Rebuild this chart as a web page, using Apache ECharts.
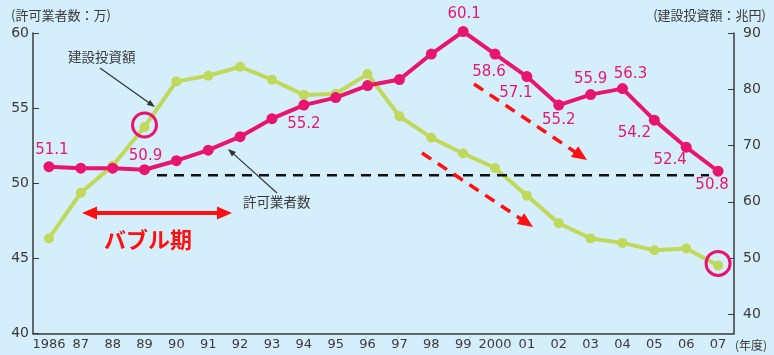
<!DOCTYPE html>
<html>
<head>
<meta charset="utf-8">
<script src="https://cdn.jsdelivr.net/npm/echarts@6/dist/echarts.min.js"></script>
<style>
  html, body { margin: 0; padding: 0; background: #d5eefb; }
  #chart { width: 774px; height: 355px; }
</style>
</head>
<body>
<div id="chart"></div>
<script>
// 年度
var years = ['1986', '87', '88', '89', '90', '91', '92', '93', '94', '95', '96',
             '97', '98', '99', '2000', '01', '02', '03', '04', '05', '06', '07'];
// 許可業者数（万）
var contractors = [51.1, 51.0, 51.0, 50.9, 51.5, 52.2, 53.1, 54.3, 55.2, 55.7, 56.5,
                   56.9, 58.6, 60.1, 58.6, 57.1, 55.2, 55.9, 56.3, 54.2, 52.4, 50.8];
// 建設投資額（兆円）
var investment = [53.5, 61.6, 66.4, 73.3, 81.4, 82.4, 84.0, 81.7, 79.0, 79.2, 82.7,
                  75.2, 71.4, 68.6, 66.0, 61.1, 56.2, 53.5, 52.7, 51.4, 51.7, 48.7];
var leftTicks = [40, 45, 50, 55, 60];
var rightTicks = [40, 50, 60, 70, 80, 90];

var PINK = '#e8156f', GREEN = '#c1d95b', RED = '#ff1010', INK = '#3a3a3a';
var NUM_FONT = 'DejaVu Sans', JP_FONT = '"Noto Sans CJK JP"';

// label offsets for the labelled pink points (index -> [dx, dy])
var labelOffsets = {
    0: [3, -17], 3: [1, -14], 8: [0, 19], 13: [1, -17], 14: [-6, 18], 15: [-11, 17],
    16: [0, 15], 17: [0, -15], 18: [8, -14], 19: [-20, 13], 20: [-16, 13], 21: [-6, 14]
};

var pinkData = contractors.map(function (v, i) {
    var off = labelOffsets[i];
    return {
        value: v,
        label: off ? {
            show: true, position: 'inside', offset: off,
            formatter: v.toFixed(1), color: PINK,
            fontFamily: NUM_FONT, fontSize: 15
        } : { show: false }
    };
});

var chart = echarts.init(document.getElementById('chart'));
var option = {
    backgroundColor: '#d5eefb',
    animation: false,
    grid: { left: 33, right: 40, top: 33, bottom: 21.5 },
    xAxis: {
        type: 'category',
        data: years,
        axisLine: { lineStyle: { color: INK, width: 1.5 } },
        axisTick: { alignWithLabel: true, inside: true, length: 6, lineStyle: { color: INK } },
        axisLabel: { interval: 0, margin: 5, color: INK, fontFamily: NUM_FONT, fontSize: 13 }
    },
    yAxis: [{
        type: 'value', min: 40, max: 60, interval: 5,
        axisLine: { show: true, lineStyle: { color: INK, width: 1.5 } },
        axisTick: { show: true, inside: true, length: 6, lineStyle: { color: INK } },
        axisLabel: { margin: 4, color: INK, fontFamily: NUM_FONT, fontSize: 14 },
        splitLine: { show: false }
    }, {
        type: 'value', min: 36.6, max: 90, position: 'right',
        axisLine: { show: true, lineStyle: { color: INK, width: 1.5 } },
        axisTick: { show: true, inside: true, length: 6, customValues: rightTicks, lineStyle: { color: INK } },
        axisLabel: { margin: 9, color: INK, fontFamily: NUM_FONT, fontSize: 14, customValues: rightTicks },
        splitLine: { show: false }
    }],
    series: [{
        name: '建設投資額',
        type: 'line',
        yAxisIndex: 1,
        data: investment,
        symbol: 'circle', symbolSize: 10,
        itemStyle: { color: GREEN },
        lineStyle: { color: GREEN, width: 4 },
        clip: false,
        z: 2
    }, {
        name: '許可業者数',
        type: 'line',
        yAxisIndex: 0,
        data: pinkData,
        symbol: 'circle', symbolSize: 11,
        itemStyle: { color: PINK },
        lineStyle: { color: PINK, width: 4 },
        clip: false,
        z: 3
    }]
};
chart.setOption(option);

function arrow(x1, y1, x2, y2, color, width, headLen, headW, dash) {
    var dx = x2 - x1, dy = y2 - y1, len = Math.sqrt(dx * dx + dy * dy);
    var ux = dx / len, uy = dy / len;
    var bx = x2 - ux * headLen, by = y2 - uy * headLen;
    return [{
        type: 'line', silent: true, z: 10,
        shape: { x1: x1, y1: y1, x2: bx + ux, y2: by + uy },
        style: { stroke: color, lineWidth: width, lineDash: dash || null }
    }, {
        type: 'polygon', silent: true, z: 10,
        shape: { points: [[x2, y2], [bx - uy * headW / 2, by + ux * headW / 2], [bx + uy * headW / 2, by - ux * headW / 2]] },
        style: { fill: color }
    }];
}

function text(x, y, str, size, color, extra) {
    var s = { text: str, x: x, y: y, fill: color, fontSize: size, fontFamily: JP_FONT };
    for (var k in extra) s[k] = extra[k];
    return { type: 'text', silent: true, z: 10, style: s };
}

var g89 = chart.convertToPixel({ seriesIndex: 0 }, [3, investment[3]]);
var g07 = chart.convertToPixel({ seriesIndex: 0 }, [21, investment[21]]);
var refY = chart.convertToPixel({ yAxisIndex: 0 }, 50.6);

var graphics = [
    text(11, 9, '(許可業者数：万)', 13, INK),
    text(766, 9, '(建設投資額：兆円)', 13, INK, { align: 'right' }),
    text(735, 339, '(年度)', 12, INK),
    text(68, 50, '建設投資額', 13.5, INK),
    text(243, 195, '許可業者数', 13.5, INK),
    text(104, 229, 'バブル期', 22, RED, { fontWeight: 'bold' }),
    {
        type: 'line', silent: true, z: 9,
        shape: { x1: 157, y1: refY + 1, x2: 709, y2: refY + 1 },
        style: { stroke: '#111', lineWidth: 2.5, lineDash: [10, 7] }
    },
    {
        type: 'circle', silent: true, z: 11,
        shape: { cx: g89[0], cy: g89[1] - 2, r: 12 },
        style: { fill: 'none', stroke: PINK, lineWidth: 3 }
    },
    {
        type: 'circle', silent: true, z: 11,
        shape: { cx: g07[0], cy: g07[1] - 2, r: 12 },
        style: { fill: 'none', stroke: PINK, lineWidth: 3 }
    }
];
graphics = graphics
    .concat(arrow(100, 68, 155, 107, '#333', 1.2, 8, 6))
    .concat(arrow(277, 193, 228, 149, '#333', 1.2, 8, 6))
    .concat(arrow(157, 213, 82, 213, RED, 4, 15, 13))
    .concat(arrow(157, 213, 232, 213, RED, 4, 15, 13))
    .concat(arrow(474, 84, 587, 160, RED, 3.5, 15, 13, [11, 8]))
    .concat(arrow(422, 153, 533, 227, RED, 3.5, 15, 13, [11, 8]));

chart.setOption({ graphic: graphics });
</script>
</body>
</html>
